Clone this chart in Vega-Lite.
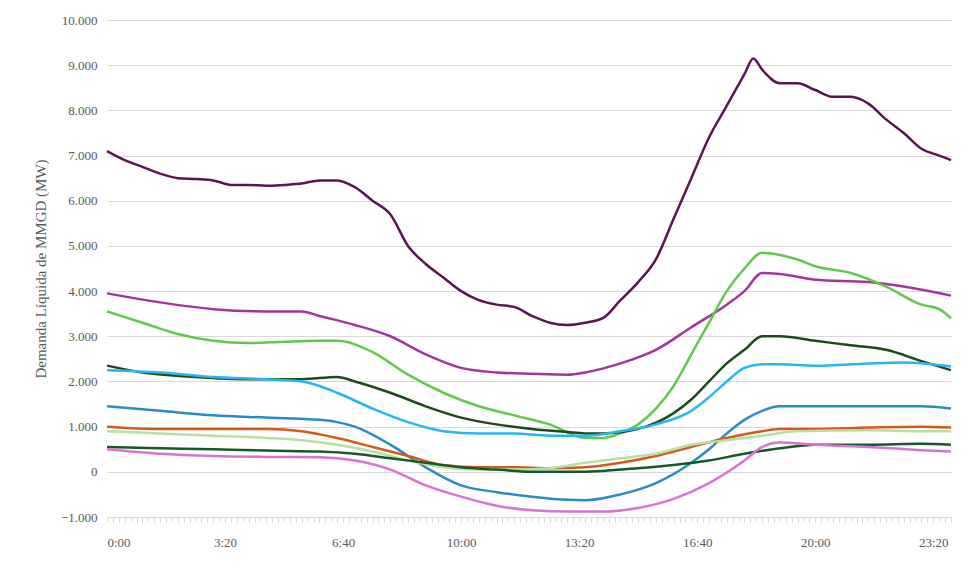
{
  "$schema": "https://vega.github.io/schema/vega-lite/v6.json",
  "width": 844,
  "height": 497,
  "autosize": {"type": "none"},
  "padding": {"left": 107, "top": 20, "right": 28, "bottom": 68},
  "config": {
    "font": "Liberation Sans Narrow",
    "view": {"stroke": null},
    "axis": {"labelColor": "#595959", "labelFontSize": 13, "titleColor": "#595959", "titleFontWeight": "normal"}
  },
  "data": {"values": [
    {"s":"MG","t":0,"v":7100},{"s":"MG","t":30,"v":6900},{"s":"MG","t":60,"v":6750},{"s":"MG","t":90,"v":6600},{"s":"MG","t":120,"v":6500},{"s":"MG","t":150,"v":6480},{"s":"MG","t":180,"v":6450},{"s":"MG","t":210,"v":6350},{"s":"MG","t":240,"v":6350},{"s":"MG","t":270,"v":6330},{"s":"MG","t":300,"v":6350},{"s":"MG","t":330,"v":6380},{"s":"MG","t":360,"v":6450},{"s":"MG","t":390,"v":6450},{"s":"MG","t":420,"v":6300},{"s":"MG","t":450,"v":6000},{"s":"MG","t":480,"v":5700},{"s":"MG","t":510,"v":5000},{"s":"MG","t":540,"v":4600},{"s":"MG","t":570,"v":4300},{"s":"MG","t":600,"v":4000},{"s":"MG","t":630,"v":3800},{"s":"MG","t":660,"v":3700},{"s":"MG","t":690,"v":3650},{"s":"MG","t":720,"v":3450},{"s":"MG","t":750,"v":3300},{"s":"MG","t":780,"v":3250},{"s":"MG","t":810,"v":3300},{"s":"MG","t":840,"v":3400},{"s":"MG","t":870,"v":3800},{"s":"MG","t":900,"v":4200},{"s":"MG","t":930,"v":4700},{"s":"MG","t":960,"v":5600},{"s":"MG","t":990,"v":6500},{"s":"MG","t":1020,"v":7400},{"s":"MG","t":1050,"v":8100},{"s":"MG","t":1080,"v":8800},{"s":"MG","t":1095,"v":9150},{"s":"MG","t":1110,"v":8900},{"s":"MG","t":1140,"v":8600},{"s":"MG","t":1170,"v":8600},{"s":"MG","t":1200,"v":8450},{"s":"MG","t":1230,"v":8300},{"s":"MG","t":1260,"v":8300},{"s":"MG","t":1290,"v":8150},{"s":"MG","t":1320,"v":7800},{"s":"MG","t":1350,"v":7500},{"s":"MG","t":1380,"v":7150},{"s":"MG","t":1410,"v":7000},{"s":"MG","t":1430,"v":6900},

    {"s":"BA","t":0,"v":3950},{"s":"BA","t":90,"v":3750},{"s":"BA","t":180,"v":3600},{"s":"BA","t":270,"v":3550},{"s":"BA","t":330,"v":3550},{"s":"BA","t":360,"v":3450},{"s":"BA","t":420,"v":3250},{"s":"BA","t":480,"v":3000},{"s":"BA","t":540,"v":2600},{"s":"BA","t":600,"v":2300},{"s":"BA","t":660,"v":2200},{"s":"BA","t":720,"v":2170},{"s":"BA","t":780,"v":2150},{"s":"BA","t":810,"v":2200},{"s":"BA","t":870,"v":2400},{"s":"BA","t":930,"v":2700},{"s":"BA","t":990,"v":3200},{"s":"BA","t":1050,"v":3700},{"s":"BA","t":1080,"v":4000},{"s":"BA","t":1110,"v":4400},{"s":"BA","t":1140,"v":4380},{"s":"BA","t":1200,"v":4250},{"s":"BA","t":1290,"v":4200},{"s":"BA","t":1350,"v":4100},{"s":"BA","t":1430,"v":3900},

    {"s":"PR","t":0,"v":3550},{"s":"PR","t":60,"v":3300},{"s":"PR","t":120,"v":3050},{"s":"PR","t":180,"v":2900},{"s":"PR","t":240,"v":2850},{"s":"PR","t":300,"v":2880},{"s":"PR","t":360,"v":2900},{"s":"PR","t":390,"v":2900},{"s":"PR","t":450,"v":2650},{"s":"PR","t":510,"v":2150},{"s":"PR","t":570,"v":1750},{"s":"PR","t":630,"v":1450},{"s":"PR","t":690,"v":1250},{"s":"PR","t":750,"v":1050},{"s":"PR","t":810,"v":750},{"s":"PR","t":840,"v":750},{"s":"PR","t":870,"v":850},{"s":"PR","t":900,"v":1050},{"s":"PR","t":930,"v":1400},{"s":"PR","t":960,"v":1900},{"s":"PR","t":990,"v":2600},{"s":"PR","t":1020,"v":3300},{"s":"PR","t":1050,"v":4000},{"s":"PR","t":1080,"v":4500},{"s":"PR","t":1110,"v":4850},{"s":"PR","t":1140,"v":4800},{"s":"PR","t":1170,"v":4700},{"s":"PR","t":1200,"v":4550},{"s":"PR","t":1260,"v":4400},{"s":"PR","t":1320,"v":4100},{"s":"PR","t":1380,"v":3700},{"s":"PR","t":1410,"v":3600},{"s":"PR","t":1430,"v":3400},

    {"s":"GO","t":0,"v":2350},{"s":"GO","t":60,"v":2200},{"s":"GO","t":150,"v":2100},{"s":"GO","t":240,"v":2050},{"s":"GO","t":330,"v":2050},{"s":"GO","t":390,"v":2100},{"s":"GO","t":420,"v":2000},{"s":"GO","t":480,"v":1750},{"s":"GO","t":540,"v":1450},{"s":"GO","t":600,"v":1200},{"s":"GO","t":660,"v":1050},{"s":"GO","t":720,"v":950},{"s":"GO","t":780,"v":880},{"s":"GO","t":810,"v":850},{"s":"GO","t":840,"v":850},{"s":"GO","t":900,"v":950},{"s":"GO","t":960,"v":1300},{"s":"GO","t":990,"v":1600},{"s":"GO","t":1020,"v":2000},{"s":"GO","t":1050,"v":2400},{"s":"GO","t":1080,"v":2700},{"s":"GO","t":1110,"v":3000},{"s":"GO","t":1140,"v":3000},{"s":"GO","t":1200,"v":2900},{"s":"GO","t":1260,"v":2800},{"s":"GO","t":1320,"v":2700},{"s":"GO","t":1380,"v":2450},{"s":"GO","t":1430,"v":2250},

    {"s":"PE","t":0,"v":2250},{"s":"PE","t":90,"v":2200},{"s":"PE","t":180,"v":2100},{"s":"PE","t":270,"v":2050},{"s":"PE","t":330,"v":2000},{"s":"PE","t":360,"v":1900},{"s":"PE","t":390,"v":1750},{"s":"PE","t":450,"v":1400},{"s":"PE","t":510,"v":1100},{"s":"PE","t":570,"v":900},{"s":"PE","t":630,"v":850},{"s":"PE","t":690,"v":850},{"s":"PE","t":750,"v":800},{"s":"PE","t":810,"v":800},{"s":"PE","t":870,"v":900},{"s":"PE","t":930,"v":1050},{"s":"PE","t":990,"v":1350},{"s":"PE","t":1020,"v":1650},{"s":"PE","t":1050,"v":2000},{"s":"PE","t":1080,"v":2300},{"s":"PE","t":1110,"v":2380},{"s":"PE","t":1140,"v":2380},{"s":"PE","t":1200,"v":2350},{"s":"PE","t":1290,"v":2400},{"s":"PE","t":1350,"v":2420},{"s":"PE","t":1430,"v":2330},

    {"s":"MT","t":0,"v":1450},{"s":"MT","t":90,"v":1350},{"s":"MT","t":180,"v":1250},{"s":"MT","t":270,"v":1200},{"s":"MT","t":360,"v":1150},{"s":"MT","t":390,"v":1100},{"s":"MT","t":420,"v":1000},{"s":"MT","t":480,"v":600},{"s":"MT","t":540,"v":100},{"s":"MT","t":600,"v":-300},{"s":"MT","t":660,"v":-450},{"s":"MT","t":720,"v":-550},{"s":"MT","t":780,"v":-620},{"s":"MT","t":810,"v":-630},{"s":"MT","t":870,"v":-500},{"s":"MT","t":930,"v":-250},{"s":"MT","t":990,"v":200},{"s":"MT","t":1020,"v":500},{"s":"MT","t":1050,"v":850},{"s":"MT","t":1080,"v":1150},{"s":"MT","t":1110,"v":1350},{"s":"MT","t":1140,"v":1450},{"s":"MT","t":1200,"v":1450},{"s":"MT","t":1290,"v":1450},{"s":"MT","t":1380,"v":1450},{"s":"MT","t":1430,"v":1400},

    {"s":"RN","t":0,"v":1000},{"s":"RN","t":90,"v":950},{"s":"RN","t":180,"v":950},{"s":"RN","t":270,"v":950},{"s":"RN","t":330,"v":900},{"s":"RN","t":390,"v":750},{"s":"RN","t":450,"v":550},{"s":"RN","t":510,"v":350},{"s":"RN","t":570,"v":150},{"s":"RN","t":630,"v":100},{"s":"RN","t":690,"v":100},{"s":"RN","t":750,"v":80},{"s":"RN","t":810,"v":100},{"s":"RN","t":870,"v":200},{"s":"RN","t":930,"v":350},{"s":"RN","t":990,"v":550},{"s":"RN","t":1050,"v":750},{"s":"RN","t":1110,"v":900},{"s":"RN","t":1140,"v":950},{"s":"RN","t":1200,"v":950},{"s":"RN","t":1290,"v":980},{"s":"RN","t":1380,"v":1000},{"s":"RN","t":1430,"v":980},

    {"s":"PI","t":0,"v":900},{"s":"PI","t":90,"v":850},{"s":"PI","t":180,"v":800},{"s":"PI","t":270,"v":750},{"s":"PI","t":330,"v":700},{"s":"PI","t":390,"v":600},{"s":"PI","t":450,"v":450},{"s":"PI","t":510,"v":250},{"s":"PI","t":570,"v":100},{"s":"PI","t":630,"v":50},{"s":"PI","t":690,"v":50},{"s":"PI","t":750,"v":80},{"s":"PI","t":810,"v":200},{"s":"PI","t":870,"v":300},{"s":"PI","t":930,"v":400},{"s":"PI","t":990,"v":600},{"s":"PI","t":1050,"v":700},{"s":"PI","t":1110,"v":800},{"s":"PI","t":1170,"v":900},{"s":"PI","t":1290,"v":920},{"s":"PI","t":1380,"v":900},{"s":"PI","t":1430,"v":900},

    {"s":"RO","t":0,"v":550},{"s":"RO","t":90,"v":520},{"s":"RO","t":180,"v":500},{"s":"RO","t":270,"v":470},{"s":"RO","t":360,"v":450},{"s":"RO","t":420,"v":400},{"s":"RO","t":480,"v":300},{"s":"RO","t":540,"v":200},{"s":"RO","t":600,"v":100},{"s":"RO","t":660,"v":50},{"s":"RO","t":720,"v":0},{"s":"RO","t":780,"v":0},{"s":"RO","t":840,"v":20},{"s":"RO","t":900,"v":80},{"s":"RO","t":960,"v":150},{"s":"RO","t":1020,"v":250},{"s":"RO","t":1080,"v":400},{"s":"RO","t":1140,"v":520},{"s":"RO","t":1200,"v":600},{"s":"RO","t":1290,"v":600},{"s":"RO","t":1380,"v":620},{"s":"RO","t":1430,"v":600},

    {"s":"MS","t":0,"v":500},{"s":"MS","t":90,"v":400},{"s":"MS","t":180,"v":350},{"s":"MS","t":270,"v":330},{"s":"MS","t":360,"v":320},{"s":"MS","t":420,"v":250},{"s":"MS","t":480,"v":50},{"s":"MS","t":540,"v":-300},{"s":"MS","t":600,"v":-550},{"s":"MS","t":660,"v":-750},{"s":"MS","t":720,"v":-850},{"s":"MS","t":780,"v":-880},{"s":"MS","t":840,"v":-880},{"s":"MS","t":900,"v":-800},{"s":"MS","t":960,"v":-600},{"s":"MS","t":1020,"v":-250},{"s":"MS","t":1080,"v":250},{"s":"MS","t":1110,"v":550},{"s":"MS","t":1140,"v":650},{"s":"MS","t":1200,"v":600},{"s":"MS","t":1290,"v":550},{"s":"MS","t":1380,"v":480},{"s":"MS","t":1430,"v":450}
  ]},
  "mark": {"type": "line", "strokeWidth": 2.5, "interpolate": "monotone"},
  "encoding": {
    "x": {
      "field": "t", "type": "quantitative",
      "scale": {"domain": [0, 1430], "nice": false},
      "axis": {
        "title": null, "grid": false, "domainColor": "#d9d9d9", "tickColor": "#d9d9d9", "tickSize": 5,
        "values": [0,10,20,30,40,50,60,70,80,90,100,110,120,130,140,150,160,170,180,190,200,210,220,230,240,250,260,270,280,290,300,310,320,330,340,350,360,370,380,390,400,410,420,430,440,450,460,470,480,490,500,510,520,530,540,550,560,570,580,590,600,610,620,630,640,650,660,670,680,690,700,710,720,730,740,750,760,770,780,790,800,810,820,830,840,850,860,870,880,890,900,910,920,930,940,950,960,970,980,990,1000,1010,1020,1030,1040,1050,1060,1070,1080,1090,1100,1110,1120,1130,1140,1150,1160,1170,1180,1190,1200,1210,1220,1230,1240,1250,1260,1270,1280,1290,1300,1310,1320,1330,1340,1350,1360,1370,1380,1390,1400,1410,1420,1430],
        "labelOverlap": false,
        "labelPadding": 14,
        "labelExpr": "datum.value % 200 == 0 ? floor(datum.value/60) + ':' + (datum.value % 60 < 10 ? '0' : '') + (datum.value % 60) : ''"
      }
    },
    "y": {
      "field": "v", "type": "quantitative",
      "scale": {"domain": [-1000, 10000], "nice": false},
      "axis": {
        "title": "Demanda Líquida de MMGD (MW)", "titleFontSize": 15, "titlePadding": 12,
        "values": [-1000,0,1000,2000,3000,4000,5000,6000,7000,8000,9000,10000],
        "gridColor": "#d9d9d9", "domain": false, "ticks": false, "labelPadding": 10,
        "labelExpr": "datum.value == 0 ? '0' : replace(format(datum.value, ',.0f'), ',', '.')"
      }
    },
    "color": {
      "field": "s", "type": "nominal",
      "scale": {
        "domain": ["BA","GO","MG","MS","MT","PE","PI","PR","RN","RO"],
        "range": ["#a3369c","#1c4a1c","#5a1650","#d874d0","#2a8cc4","#29b6f0","#b5e0a0","#62c84a","#d35a1a","#145a28"]
      },
      "legend": {
        "title": null, "orient": "bottom", "direction": "horizontal", "symbolType": "stroke",
        "symbolStrokeWidth": 3, "symbolSize": 300, "labelFontSize": 12, "labelColor": "#595959",
        "columnPadding": 14, "offset": 34
      }
    }
  }
}
